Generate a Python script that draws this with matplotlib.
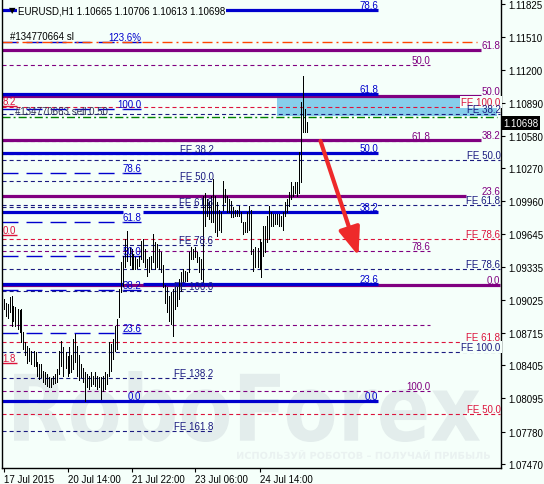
import matplotlib.pyplot as plt
import matplotlib as mpl
from matplotlib.patches import Rectangle, PathPatch
from matplotlib.textpath import TextPath
from matplotlib.font_manager import FontProperties
from matplotlib.transforms import Affine2D, blended_transform_factory

# chart size (px) and colours
W, H = 544, 485
BG = '#F5FFFA'
WM = '#E3EDEC'
BLUE = '#0000CD'
PURPLE = '#800080'
NAVY = '#1B1B80'
RED = '#DC143C'

mpl.rcParams.update({
    "font.family": ["Liberation Sans", "DejaVu Sans"],
    "font.size": 7,
    "lines.scale_dashes": False,
})

# ---- EURUSD H1 bars (high / low), one bar per hour from 17 Jul 2015 ----
bar_high = [
    1.0903, 1.0900, 1.0899, 1.0905, 1.0906, 1.0897, 1.0896, 1.0894, 1.0893, 1.0894,
    1.0872, 1.0863, 1.0859, 1.0857, 1.0854, 1.0854, 1.0853, 1.0844, 1.0842, 1.0842,
    1.0835, 1.0834, 1.0832, 1.0830, 1.0829, 1.0831, 1.0832, 1.0837, 1.0854, 1.0864,
    1.0858, 1.0853, 1.0849, 1.0858, 1.0850, 1.0866, 1.0870, 1.0859, 1.0850, 1.0842,
    1.0838, 1.0834, 1.0832, 1.0831, 1.0834, 1.0831, 1.0834, 1.0831, 1.0830, 1.0830,
    1.0831, 1.0834, 1.0832, 1.0863, 1.0861, 1.0866, 1.0878, 1.0884, 1.0913, 1.0938,
    1.0944, 1.0960, 1.0968, 1.0953, 1.0951, 1.0946, 1.0943, 1.0941, 1.0944, 1.0958,
    1.0960, 1.0951, 1.0941, 1.0943, 1.0944, 1.0965, 1.0957, 1.0955, 1.0951, 1.0948,
    1.0936, 1.0917, 1.0915, 1.0906, 1.0910, 1.0913, 1.0915, 1.0915, 1.0922, 1.0929,
    1.0932, 1.0930, 1.0929, 1.0948, 1.0953, 1.0951, 1.0953, 1.0948, 1.0943, 1.0941,
    1.1001, 1.1004, 1.0998, 1.0995, 1.1001, 1.1017, 1.1001, 1.0995, 1.0988, 1.0986,
    1.1015, 1.1007, 1.1001, 1.0998, 1.0996, 1.0990, 1.0988, 1.0988, 1.0991, 1.0986,
    1.0976, 1.0976, 1.0986, 1.0991, 1.0988, 1.0951, 1.0953, 1.0952, 1.0960, 1.0957,
    1.0972, 1.0972, 1.0982, 1.0991, 1.0986, 1.0984, 1.0984, 1.0984, 1.0984, 1.0982,
    1.0986, 1.0995, 1.0998, 1.1005, 1.1014, 1.1010, 1.1014, 1.1014, 1.1042, 1.1090,
    1.1114, 1.1083, 1.1071,
]
bar_low = [
    1.0894, 1.0887, 1.0885, 1.0891, 1.0878, 1.0883, 1.0878, 1.0875, 1.0872, 1.0863,
    1.0856, 1.0850, 1.0843, 1.0845, 1.0842, 1.0840, 1.0840, 1.0831, 1.0828, 1.0830,
    1.0825, 1.0823, 1.0821, 1.0820, 1.0820, 1.0823, 1.0824, 1.0825, 1.0832, 1.0840,
    1.0831, 1.0838, 1.0831, 1.0833, 1.0834, 1.0837, 1.0844, 1.0831, 1.0827, 1.0830,
    1.0825, 1.0807, 1.0820, 1.0818, 1.0821, 1.0823, 1.0821, 1.0818, 1.0820, 1.0809,
    1.0816, 1.0818, 1.0823, 1.0831, 1.0835, 1.0847, 1.0854, 1.0856, 1.0886, 1.0910,
    1.0916, 1.0934, 1.0939, 1.0936, 1.0932, 1.0932, 1.0932, 1.0933, 1.0935, 1.0941,
    1.0938, 1.0934, 1.0925, 1.0929, 1.0932, 1.0938, 1.0932, 1.0934, 1.0932, 1.0929,
    1.0915, 1.0900, 1.0891, 1.0883, 1.0880, 1.0868, 1.0894, 1.0897, 1.0903, 1.0911,
    1.0919, 1.0920, 1.0920, 1.0929, 1.0941, 1.0941, 1.0943, 1.0938, 1.0929, 1.0922,
    1.0919, 1.0972, 1.0982, 1.0979, 1.0976, 1.0976, 1.0967, 1.0963, 1.0969, 1.0967,
    1.0988, 1.0995, 1.0986, 1.0986, 1.0981, 1.0981, 1.0982, 1.0982, 1.0982, 1.0976,
    1.0965, 1.0967, 1.0967, 1.0969, 1.0946, 1.0930, 1.0934, 1.0934, 1.0932, 1.0924,
    1.0944, 1.0948, 1.0957, 1.0960, 1.0972, 1.0972, 1.0974, 1.0974, 1.0972, 1.0972,
    1.0969, 1.0982, 1.0986, 1.0991, 1.0998, 1.1001, 1.1004, 1.1001, 1.1004, 1.1014,
    1.1061, 1.1061, 1.1061,
]

# axis ticks
price_ticks = [1.11825, 1.11510, 1.11200, 1.10890, 1.10580, 1.10270, 1.09960, 1.09645,
               1.09335, 1.09025, 1.08715, 1.08405, 1.08095, 1.07780, 1.07470]
time_tick_bars = [0, 32, 64, 96, 128]
time_tick_labels = ['17 Jul 2015', '20 Jul 14:00', '21 Jul 22:00', '23 Jul 06:00', '24 Jul 14:00']

# ---- Fibonacci objects ----
fibo_blue_levels = [1.11768, 1.10973, 1.10415, 1.09857, 1.09176, 1.08069]
fibo_blue_labels = ['78.6', '61.8', '50.0', '38.2', '23.6', '0.0']

fibo_purple_levels = [1.11390, 1.10959, 1.10538, 1.10008, 1.09169]
fibo_purple_labels = ['61.8', '50.0', '38.2', '23.6', '0.0']

fibo_purple2_levels = [1.11248, 1.10529, 1.09488, 1.08788, 1.08164]
fibo_purple2_labels = ['50.0', '61.8', '78.6', '', '100.0']

fe_red_levels = [1.10850, 1.09602, 1.08627, 1.07946]
fe_red_labels = ['FE 100.0', 'FE 78.6', 'FE 61.8', 'FE 50.0']

fe_navy_levels = [1.10784, 1.10349, 1.09923, 1.09318, 1.08533]
fe_navy_labels = ['FE 38.2', 'FE 50.0', 'FE 61.8', 'FE 78.6', 'FE 100.0']

fe_left_levels = [1.10406, 1.10150, 1.09904, 1.09545, 1.09110, 1.08287, 1.07785]
fe_left_labels = ['FE 38.2', 'FE 50.0', 'FE 61.8', 'FE 78.6', 'FE 100.0', 'FE 138.2', 'FE 161.8']

fibo_dash_levels = [1.11465, 1.10831, 1.10226, 1.09762, 1.09441, 1.09119, 1.08712, 1.08069]
fibo_dash_labels = ['123.6%', '100.0', '78.6', '61.8', '50.0', '38.2', '23.6', '0.0']

red_stub_levels = [1.10860, 1.09640, 1.08430]
red_stub_labels = ['8.2', '0.0', '1.8']

sl_level = 1.11465
order_level = 1.10756
zone_low, zone_high = 1.10765, 1.10954
last_price = 1.10698
arrow_from = (158.5, 1.10529)
arrow_to = (177.5, 1.09441)

# ---- figure ----
fig = plt.figure(figsize=(W / 100, H / 100), dpi=100)
fig.patch.set_facecolor(BG)
ax = fig.add_axes([2 / W, 16 / H, 499 / W, 469 / H])
ax.set_facecolor(BG)
ax.set_xlim(-0.75, 248.75)
ax.set_ylim(1.07435, 1.11872)


def fit_text(s, left, top, right, bottom, color):
    tp = TextPath((0, 0), s, size=50, prop=FontProperties(family='DejaVu Sans', weight='bold'))
    e = tp.get_extents()
    tr = (Affine2D().translate(-e.x0, -e.y0)
          .scale((right - left) / e.width, (bottom - top) / e.height)
          .translate(left, H - bottom))
    ax.add_patch(PathPatch(tp, transform=tr, facecolor=color, edgecolor='none', zorder=0.3))


# watermark
fit_text('RoboForex', 14, 372, 480, 443, WM)
fit_text('ИСПОЛЬЗУЙ РОБОТОВ – ПОЛУЧАЙ ПРИБЫЛЬ', 237, 451, 490, 460, '#EAF2F1')

SHORT = (2.9, 2.2)
LONG = (11.5, 5.8)


def hline(y, x0, x1, color, lw, dashes=None, z=2):
    kw = dict(color=color, lw=lw, solid_capstyle='butt', dash_capstyle='butt', zorder=z)
    if dashes:
        kw['dashes'] = dashes
    ax.plot([x0, x1], [y, y], **kw)


def label(x, y, s, color, ha='right', bg=False, z=4):
    kw = {}
    if bg:
        kw['bbox'] = dict(facecolor=BG, edgecolor='none', pad=0.8)
    ax.annotate(s, (x, y), xytext=(0, 0), textcoords='offset points', ha=ha, va='bottom',
                color=color, fontsize=7, zorder=z, **kw)


# trade zone
ax.add_patch(Rectangle((137, zone_low), 110, zone_high - zone_low, facecolor='#87CEEB',
                       edgecolor='none', zorder=1))

# purple fibo (thick)
ends = [239, 239, 239, 231.5, 248.5]
for lv, lb, e in zip(fibo_purple_levels, fibo_purple_labels, ends):
    hline(lv, -0.75, e, PURPLE, 2.3)
    label(248.5, lv, lb, PURPLE)

# purple fibo (dashed)
for lv, lb in zip(fibo_purple2_levels, fibo_purple2_labels):
    hline(lv, -0.75, 213.5, PURPLE, 0.8, SHORT)
    if lb:
        label(213.5, lv, lb, PURPLE)

# blue fibo (thick)
for lv, lb in zip(fibo_blue_levels, fibo_blue_labels):
    if lb in ('38.2', '23.6'):
        hline(lv, -0.75, 60, BLUE, 2.3, z=2.2)
        hline(lv, 70, 187.5, BLUE, 2.3, z=2.2)
    else:
        hline(lv, -0.75, 187.5, BLUE, 2.3, z=2.2)
    label(187.5, lv, lb, BLUE)

# blue fibo (long dashes, labels at the left)
for lv, lb in zip(fibo_dash_levels, fibo_dash_labels):
    hline(lv, -0.75, 60, BLUE, 1.0, LONG)
    hline(lv, 60, 69, BLUE, 1.0)
    label(69, lv, lb, BLUE)

# red expansion
red_ends = [229.5, 248.5, 229.5, 248.5]
for lv, lb, e in zip(fe_red_levels, fe_red_labels, red_ends):
    hline(lv, -0.75, e, RED, 0.8, SHORT)
    label(248.5, lv, lb, RED, bg=(lb == 'FE 100.0'))

# navy expansion (right labels)
for lv, lb in zip(fe_navy_levels, fe_navy_labels):
    hline(lv, -0.75, 248.5, NAVY, 0.8, SHORT)
    label(248.5, lv, lb, NAVY, bg=(lb == 'FE 100.0'))

# navy expansion (left labels)
for lv, lb in zip(fe_left_levels, fe_left_labels):
    hline(lv, -0.75, 105, NAVY, 0.8, SHORT)
    label(105, lv, lb, NAVY)

# red stubs at the left edge
for lv, lb in zip(red_stub_levels, red_stub_labels):
    hline(lv, -0.75, 6.5, RED, 1.0)
    label(-0.5, lv, lb, RED, ha='left')

# stop loss and order lines
hline(sl_level, -0.75, 237, '#FF4500', 1.0, (7.2, 2.9, 1.4, 2.9))
hline(order_level, -0.75, 247, '#008000', 1.0, (5.8, 2.2, 1.4, 2.2))

# bars
xs = list(range(len(bar_high)))
ax.vlines(xs, bar_low, bar_high, color='black', lw=0.6, zorder=3, antialiased=False)

# forecast arrow
ax.annotate('', xy=arrow_to, xytext=arrow_from, zorder=5,
            arrowprops=dict(arrowstyle='-|>,head_length=1.7,head_width=0.65', color='#EE2A2A',
                            lw=3, shrinkA=0, shrinkB=0, mutation_scale=10))

# axes
ax.spines['top'].set_visible(False)
for s in ('left', 'right', 'bottom'):
    ax.spines[s].set_linewidth(1.0)
ax.yaxis.tick_right()
ax.set_yticks(price_ticks)
ax.set_yticklabels([f'{p:.5f}' for p in price_ticks])
ax.set_xticks(time_tick_bars)
ax.set_xticklabels(time_tick_labels)
for t in ax.get_xticklabels():
    t.set_ha('left')
ax.tick_params(axis='y', direction='out', length=3, width=0.8, pad=2.5, labelsize=7)
ax.tick_params(axis='x', direction='out', length=3, width=0.8, pad=1.5, labelsize=7)

# current price box
ax.text(1.004, last_price, f'{last_price:.5f}', transform=blended_transform_factory(ax.transAxes, ax.transData),
        ha='left', va='center', color='white', fontsize=7, zorder=6, clip_on=False,
        bbox=dict(facecolor='black', edgecolor='none', pad=1.5))

# header and order texts
fig.text(18 / W, 1 - 11 / H, 'EURUSD,H1 1.10665 1.10706 1.10613 1.10698', ha='left', va='center',
         fontsize=7, color='black', bbox=dict(facecolor=BG, edgecolor='none', pad=0.5))
fig.text(12 / W, 1 - 11 / H, '▼', ha='center', va='center', fontsize=6, color='black',
         family='DejaVu Sans')
fig.text(10 / W, 1 - 37 / H, '#134770664 sl', ha='left', va='center', fontsize=7, color='black')
fig.text(15 / W, 1 - 112 / H, '#134770663 sell 0.50', ha='left', va='center', fontsize=7,
         color='#333355')

fig.savefig('out.png', dpi=100, facecolor=BG)
